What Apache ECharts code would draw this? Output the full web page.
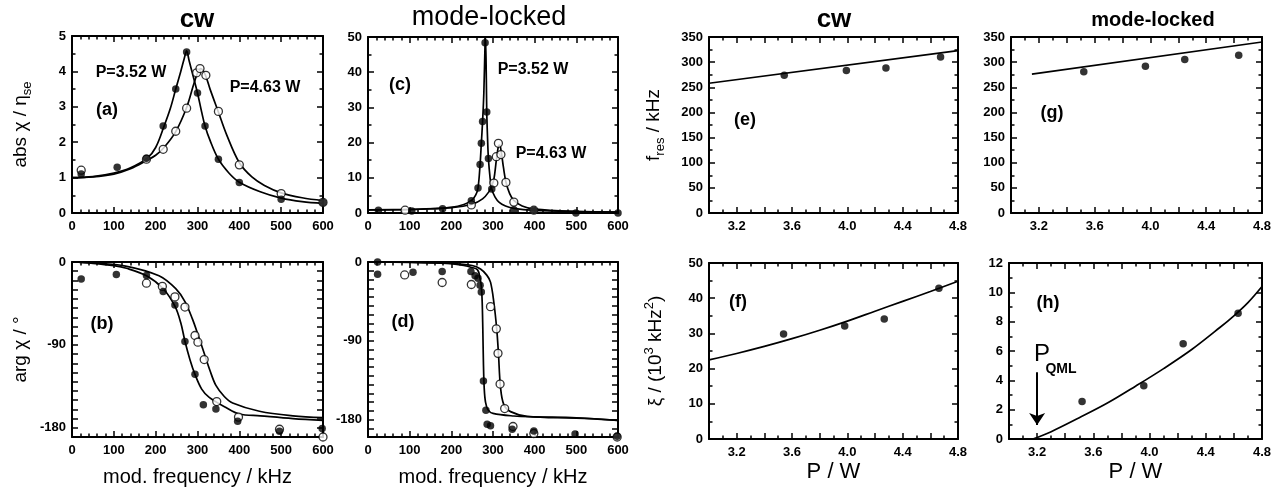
<!DOCTYPE html>
<html><head><meta charset="utf-8">
<script src="https://cdn.jsdelivr.net/npm/echarts@6/dist/echarts.min.js"></script>
<style>html,body{margin:0;padding:0;background:#fff}#c{width:1281px;height:494px}</style>
</head><body><div id="c"></div>
<script>
// ---------------- DATA ----------------
// (a) abs chi / eta_se, cw
const absCwFilled = [[22,1.10],[108,1.29],[178,1.55],[218,2.46],[248,3.50],[274,4.55],[300,3.39],[318,2.46],[350,1.52],[400,0.86],[500,0.39],[600,0.30]];
const absCwOpen   = [[22,1.21],[178,1.52],[218,1.80],[248,2.31],[274,2.96],[298,3.96],[306,4.08],[320,3.89],[350,2.87],[400,1.36],[500,0.55],[600,0.30]];
const absCwFit352 = [[0,1.00],[50,1.03],[100,1.13],[140,1.28],[180,1.55],[200,1.85],[220,2.45],[235,2.95],[248,3.50],[260,4.00],[268,4.35],[274,4.58],[280,4.30],[290,3.85],[300,3.39],[310,2.85],[318,2.46],[330,2.05],[350,1.52],[375,1.13],[400,0.87],[450,0.60],[500,0.42],[550,0.32],[600,0.27]];
const absCwFit463 = [[0,1.00],[50,1.02],[100,1.10],[140,1.25],[178,1.48],[200,1.63],[220,1.85],[248,2.30],[274,2.98],[290,3.60],[300,3.95],[308,4.08],[318,3.92],[330,3.50],[350,2.85],[370,2.20],[400,1.42],[430,1.02],[460,0.78],[500,0.57],[550,0.43],[600,0.35]];
// (c) abs chi / eta_se, mode-locked
const absMlFilled = [[25,0.8],[105,0.6],[179,1.2],[248,3.5],[264,7.1],[269,13.8],[272,19.8],[275,26.0],[281,48.4],[285,28.7],[289,15.5],[297,6.8],[350,0.9],[398,0.8],[499,0.0],[600,0.0]];
const absMlOpen   = [[89,0.8],[248,2.3],[302,8.5],[308,16.0],[313,19.8],[319,16.6],[331,8.7],[350,3.1],[398,0.8]];
const absMlFit352 = [[0,0.9],[100,1.0],[150,1.2],[200,1.6],[230,2.4],[248,3.5],[258,5.0],[264,7.1],[269,13.8],[272,19.8],[275,26.0],[278,34],[281,48.4],[282,50],[284,38],[285,28.7],[287,21],[289,15.5],[293,10],[297,6.8],[305,4.5],[315,3.0],[330,2.0],[350,1.3],[400,0.75],[500,0.4],[600,0.25]];
const absMlFit463 = [[0,0.9],[100,1.0],[200,1.5],[250,2.5],[275,4.0],[290,6.0],[296,7.5],[302,9.5],[308,15.0],[313,19.0],[316,19.3],[320,17.2],[325,13.0],[331,8.8],[340,5.5],[350,3.6],[370,2.0],[400,1.1],[500,0.45],[600,0.25]];
// (b) arg chi, cw
const argCwFilled = [[22,-18.4],[106,-13.6],[178,-14.7],[218,-32],[246,-46.7],[270,-86.4],[294,-122],[314,-155],[344,-159.6],[396,-172.8],[496,-183.8],[598,-180.9]];
const argCwOpen   = [[178,-23],[216,-26.5],[246,-37.9],[270,-48.9],[294,-79.8],[301,-87.1],[316,-105.9],[346,-151.5],[398,-168.4],[496,-181.6],[600,-190]];
const argCwFit352 = [[0,0],[50,-1.5],[100,-4],[130,-6.8],[178,-15],[218,-29],[246,-48],[260,-66],[270,-86],[282,-106],[294,-122],[310,-138],[328,-147],[368,-158],[400,-165],[450,-167],[528,-170],[600,-172]];
const argCwFit463 = [[0,0],[48,-1],[128,-4.4],[208,-15],[248,-29],[270,-43],[288,-62],[302,-80],[316,-99],[330,-118],[344,-134],[364,-146],[384,-153],[448,-162],[528,-167],[600,-169]];
// (d) arg chi, mode-locked
const argMlFilled = [[23,0],[23,-14],[108,-11.7],[178,-10.9],[247,-10.9],[257,-15.6],[264,-18.7],[269,-26.5],[272,-34.3],[277,-136],[283,-169.5],[286,-185.4],[294,-187],[346,-191],[398,-193],[497,-196.7],[598,-199]];
const argMlOpen   = [[88,-14.8],[178,-23.4],[248,-25.7],[294,-51],[308,-76.4],[312,-104.4],[317,-139.5],[328,-167.5],[348,-188],[398,-196],[598,-200]];
const argMlFit352 = [[0,0],[100,-0.5],[150,-1],[200,-2],[230,-4],[247,-6],[263,-9],[269,-19],[272,-28],[274,-45],[275.5,-75],[277,-115],[279,-145],[282,-160],[288,-169],[300,-173],[350,-176],[400,-177],[500,-178],[600,-181]];
const argMlFit463 = [[0,0],[100,-0.3],[200,-1.5],[250,-4],[270,-8],[285,-15],[294,-23],[302,-46],[309,-77],[313,-104],[318,-143],[326,-163],[342,-171],[382,-176.5],[500,-178.5],[600,-181]];
// (e) f_res cw, (g) f_res mode-locked
const fresCwPts  = [[3.544,273.7],[3.993,283.6],[4.279,288.3],[4.674,310.1]];
const fresCwFit  = [[3.0,258],[4.8,323]];
const fresMlPts  = [[3.522,280.7],[3.964,291.9],[4.246,305.1],[4.633,313.7]];
const fresMlFit  = [[3.15,276],[4.8,340]];
// (f) xi cw, (h) xi mode-locked
const xiCwPts = [[3.539,29.8],[3.981,32.1],[4.267,34.1],[4.662,42.8]];
const xiCwFit = [[3.0,22.5],[3.2,24.3],[3.4,26.3],[3.6,28.5],[3.8,30.9],[4.0,33.5],[4.2,36.3],[4.4,39.1],[4.6,41.9],[4.8,44.8]];
const xiMlPts = [[3.52,2.56],[3.959,3.63],[4.239,6.50],[4.630,8.58]];
const xiMlFit = [[3.17,0],[3.3,0.5],[3.5,1.45],[3.7,2.45],[3.9,3.6],[4.1,4.8],[4.3,6.1],[4.5,7.6],[4.6,8.4],[4.7,9.3],[4.8,10.4]];
const pQmlArrow = [[3.2,4.55],[3.2,0.95]];
// tick labels
const pTickLabels = [3.2,3.6,4.0,4.4,4.8];
const argTickLabels = [0,-90,-180];

// ---------------- CHART ----------------
const FONT = '"Liberation Sans", Arial, Helvetica, sans-serif';
const chart = echarts.init(document.getElementById('c'), null, {renderer:'canvas'});

function pickFmt(list, digits){
  return function(v){
    for (const t of list){ if (Math.abs(v-t) < 1e-6) return digits ? t.toFixed(digits) : String(t); }
    return '';
  };
}

const panels = [
  {grid:{left:72,top:36,width:251,height:177}, x:{min:0,max:600,interval:100,minor:5}, y:{min:0,max:5,interval:1,minor:2},
   yName:'{t|abs χ / η}{s|se}', yGap:38},
  {grid:{left:368,top:37,width:250,height:176}, x:{min:0,max:600,interval:100,minor:5}, y:{min:0,max:50,interval:10,minor:2}},
  {grid:{left:72,top:262,width:251,height:175}, x:{min:0,max:600,interval:100,minor:5,name:'mod. frequency / kHz'}, y:{min:-190,max:0,interval:10,minor:0,fmt:pickFmt(argTickLabels,0)},
   yName:'{t|arg χ / °}', yGap:38},
  {grid:{left:368,top:262,width:250,height:175}, x:{min:0,max:600,interval:100,minor:5,name:'mod. frequency / kHz'}, y:{min:-200,max:0,interval:10,minor:0,fmt:pickFmt(argTickLabels,0)}},
  {grid:{left:709,top:37,width:249,height:176}, x:{min:3.0,max:4.8,interval:0.2,minor:2,fmt:pickFmt(pTickLabels,1)}, y:{min:0,max:350,interval:50,minor:2},
   yName:'{t|f}{s|res}{t| / kHz}', yGap:42},
  {grid:{left:1011,top:37,width:251,height:176}, x:{min:3.0,max:4.8,interval:0.2,minor:2,fmt:pickFmt(pTickLabels,1)}, y:{min:0,max:350,interval:50,minor:2}},
  {grid:{left:709,top:263,width:249,height:176}, x:{min:3.0,max:4.8,interval:0.2,minor:2,fmt:pickFmt(pTickLabels,1),name:'P / W'}, y:{min:0,max:50,interval:10,minor:2},
   yName:'{t|ξ / (10}{p|3}{t| kHz}{p|2}{t|)}', yGap:40},
  {grid:{left:1009,top:263,width:253,height:176}, x:{min:3.0,max:4.8,interval:0.2,minor:2,fmt:pickFmt(pTickLabels,1),name:'P / W'}, y:{min:0,max:12,interval:2,minor:2}}
];

const grids=[], xAxes=[], yAxes=[];
const tickStyle = {color:'#000', width:1.5};
const nameRich = {
  t:{fontFamily:FONT, fontSize:19, color:'#000', verticalAlign:'middle', lineHeight:26},
  s:{fontFamily:FONT, fontSize:13, color:'#000', verticalAlign:'bottom', lineHeight:26},
  p:{fontFamily:FONT, fontSize:13, color:'#000', verticalAlign:'top', lineHeight:26}
};
panels.forEach((p,i)=>{
  grids.push(Object.assign({containLabel:false}, p.grid));
  [false,true].forEach(mirror=>{
    const base = {type:'value', gridIndex:i, min:p.x.min, max:p.x.max, interval:p.x.interval,
      position: mirror?'top':'bottom', splitLine:{show:false},
      axisLine:{show:true, onZero:false, lineStyle:{color:'#000', width:2}},
      axisTick:{show:true, inside:true, length:6, lineStyle:tickStyle},
      minorTick:{show:p.x.minor>0, splitNumber:p.x.minor||1, length:3.5, lineStyle:tickStyle},
      axisLabel:{show:!mirror, color:'#000', fontFamily:FONT, fontWeight:'bold', fontSize:13, margin:7,
        formatter:p.x.fmt || (v=>String(v))}};
    if (!mirror && p.x.name){
      base.name = p.x.name; base.nameLocation='middle';
      base.nameGap = p.x.name==='P / W' ? 22 : 30;
      base.nameTextStyle = {fontFamily:FONT, fontSize: p.x.name==='P / W'?22:20, color:'#000'};
    }
    xAxes.push(base);
  });
  [false,true].forEach(mirror=>{
    const base = {type:'value', gridIndex:i, min:p.y.min, max:p.y.max, interval:p.y.interval,
      position: mirror?'right':'left', splitLine:{show:false},
      axisLine:{show:true, onZero:false, lineStyle:{color:'#000', width:2}},
      axisTick:{show:true, inside:true, length:6, lineStyle:tickStyle},
      minorTick:{show:p.y.minor>0, splitNumber:p.y.minor||1, length:3.5, lineStyle:tickStyle},
      axisLabel:{show:!mirror, color:'#000', fontFamily:FONT, fontWeight:'bold', fontSize:13, margin:6,
        formatter:p.y.fmt || (v=>String(v))}};
    if (!mirror && p.yName){
      base.name = p.yName; base.nameLocation='middle'; base.nameGap=p.yGap; base.nameRotate=90;
      base.nameTextStyle = {fontFamily:FONT, fontSize:19, color:'#000', rich:nameRich};
    }
    yAxes.push(base);
  });
});

const series=[];
function line(i, data){
  series.push({type:'line', xAxisIndex:2*i, yAxisIndex:2*i, data, showSymbol:false, smooth:0.35,
    lineStyle:{color:'#000', width:1.7}, itemStyle:{color:'#000'}, silent:true, clip:true, z:2});
}
function openPts(i, data){
  series.push({type:'scatter', xAxisIndex:2*i, yAxisIndex:2*i, data, symbol:'circle', symbolSize:8,
    itemStyle:{color:'#fff', borderColor:'#000', borderWidth:1.3}, silent:true, z:3});
}
function filledPts(i, data, extra){
  series.push(Object.assign({type:'scatter', xAxisIndex:2*i, yAxisIndex:2*i, data, symbol:'circle', symbolSize:7.5,
    itemStyle:{color:'#000'}, silent:true, z:4}, extra||{}));
}
// (a)
line(0, absCwFit352); line(0, absCwFit463); openPts(0, absCwOpen); filledPts(0, absCwFilled);
// (c)
line(1, absMlFit352); line(1, absMlFit463); openPts(1, absMlOpen); filledPts(1, absMlFilled);
// (b)
line(2, argCwFit352); line(2, argCwFit463); openPts(2, argCwOpen); filledPts(2, argCwFilled);
// (d)
line(3, argMlFit352); line(3, argMlFit463); openPts(3, argMlOpen); filledPts(3, argMlFilled);
// (e)
line(4, fresCwFit); filledPts(4, fresCwPts);
// (g)
line(5, fresMlFit); filledPts(5, fresMlPts);
// (f)
line(6, xiCwFit); filledPts(6, xiCwPts);
// (h)
line(7, xiMlFit);
filledPts(7, xiMlPts, {markLine:{silent:true, symbol:['none','arrow'], symbolSize:12,
  lineStyle:{color:'#000', width:2, type:'solid'}, label:{show:false},
  data:[[{coord:pQmlArrow[0]},{coord:pQmlArrow[1]}]]}});

function txt(x,y,s,size,weight,align){
  return {type:'text', x, y, silent:true, style:{text:s, fill:'#000', font:(weight||'bold')+' '+size+'px '+FONT,
    textAlign:align||'center', textVerticalAlign:'middle'}};
}
const graphic = [
  txt(197,20,'cw',26,'bold'),
  txt(489,18,'mode-locked',27,'normal'),
  txt(834,20,'cw',26,'bold'),
  txt(1153,20,'mode-locked',20,'bold'),
  txt(107,110,'(a)',18), txt(400,85,'(c)',18), txt(102,324,'(b)',18), txt(403,322,'(d)',18),
  txt(745,120,'(e)',18), txt(1052,113,'(g)',18), txt(738,302,'(f)',18), txt(1048,303,'(h)',18),
  txt(131,73,'P=3.52 W',16), txt(265,88,'P=4.63 W',16),
  txt(533,70,'P=3.52 W',16), txt(551,154,'P=4.63 W',16),
  txt(1042,354,'P',24,'normal'), txt(1061,369,'QML',14,'bold')
];

chart.setOption({animation:false, backgroundColor:'#fff', grid:grids, xAxis:xAxes, yAxis:yAxes, series, graphic});
</script></body></html>
